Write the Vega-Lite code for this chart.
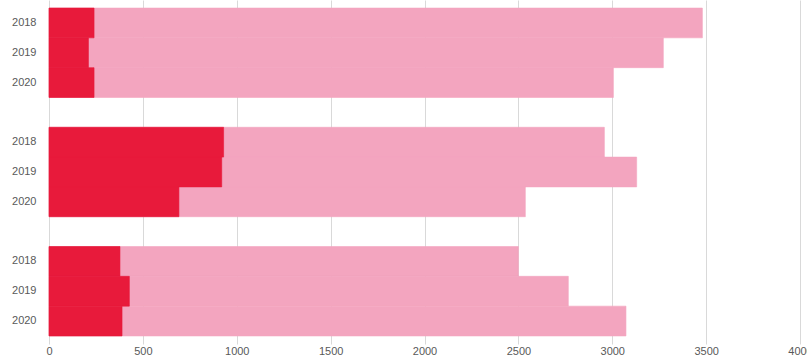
{
  "$schema": "https://vega.github.io/schema/vega-lite/v6.json",
  "autosize": {"type": "none"},
  "padding": {"left": 49, "top": 0, "right": 7, "bottom": 12},
  "width": 751,
  "height": 344,
  "background": "white",
  "config": {
    "view": {"stroke": null},
    "font": "Liberation Sans"
  },
  "data": {
    "values": [
      {"key": "A2018", "total": 3480, "part": 240},
      {"key": "A2019", "total": 3272, "part": 210},
      {"key": "A2020", "total": 3006, "part": 240},
      {"key": "B2018", "total": 2958, "part": 930},
      {"key": "B2019", "total": 3130, "part": 920},
      {"key": "B2020", "total": 2537, "part": 692},
      {"key": "C2018", "total": 2500, "part": 378},
      {"key": "C2019", "total": 2766, "part": 428},
      {"key": "C2020", "total": 3073, "part": 389}
    ]
  },
  "encoding": {
    "y": {
      "field": "key",
      "type": "nominal",
      "scale": {
        "domain": ["A2018", "A2019", "A2020", "gap1", "B2018", "B2019", "B2020", "gap2", "C2018", "C2019", "C2020"],
        "paddingInner": 0,
        "paddingOuter": 0.27
      },
      "axis": {
        "title": null,
        "domain": false,
        "ticks": false,
        "grid": false,
        "labelPadding": 13,
        "labelColor": "#595959",
        "labelFontSize": 11,
        "labelExpr": "indexof(datum.value, 'gap') >= 0 ? '' : substring(datum.value, 1)"
      }
    }
  },
  "layer": [
    {
      "mark": {"type": "bar", "color": "#F3A5BF", "stroke": "#F3A5BF", "strokeWidth": 0.6},
      "encoding": {
        "x": {
          "field": "total",
          "type": "quantitative",
          "scale": {"domain": [0, 4000], "nice": false},
          "axis": {
            "title": null,
            "domain": false,
            "ticks": false,
            "grid": true,
            "gridColor": "#D9D9D9",
            "values": [0, 500, 1000, 1500, 2000, 2500, 3000, 3500, 4000],
            "labelPadding": 1,
            "labelColor": "#595959",
            "labelFontSize": 11,
            "labelFlush": false,
            "format": "d"
          }
        }
      }
    },
    {
      "mark": {"type": "bar", "color": "#E81A3B", "stroke": "#E81A3B", "strokeWidth": 0.6},
      "encoding": {
        "x": {"field": "part", "type": "quantitative"}
      }
    }
  ]
}
